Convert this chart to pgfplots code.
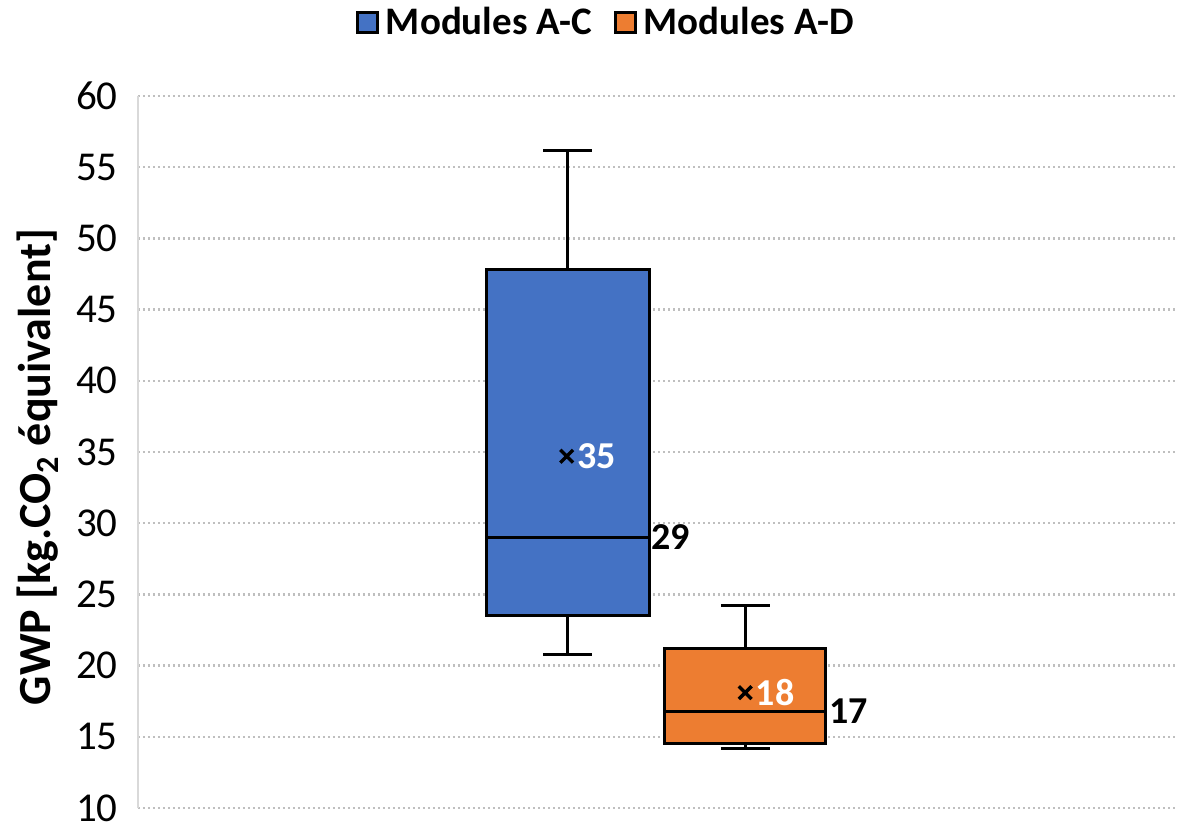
\documentclass[border=0pt]{standalone}
\usepackage{fontspec}
\setmainfont{Carlito}
\usepackage{pgfplots}
\pgfplotsset{compat=1.18}
\usepgfplotslibrary{statistics}
\definecolor{cblue}{HTML}{4472C4}
\definecolor{corange}{HTML}{ED7D31}
\definecolor{gridgray}{HTML}{BFBFBF}
\definecolor{axgray}{HTML}{D9D9D9}
\begin{document}
\begin{tikzpicture}
\begin{axis}[
  at={(0,0)}, anchor=south west,
  scale only axis, width=519pt, height=356pt,
  xmin=0, xmax=1, ymin=10, ymax=60,
  ytick={10,15,...,60},
  xtick=\empty,
  axis lines*=left,
  axis line style={-},
  x axis line style={draw=none},
  y axis line style={draw=axgray, line width=1pt},
  ymajorgrids,
  major grid style={draw=gridgray, line width=1.2pt, dash pattern=on 1.2pt off 1.3pt},
  major tick length=0pt,
  /pgf/number format/assume math mode=true,
  yticklabel style={font=\fontsize{20.5}{24}\selectfont, anchor=east, inner sep=0pt, xshift=-10pt},
  ylabel={GWP [kg.CO\textsubscript{2} équivalent]},
  ylabel style={font=\bfseries\fontsize{23}{27}\selectfont, at={(rel axis cs:-0.0963,0.479)}, anchor=center},
  boxplot/draw direction=y,
  clip=false,
  legend columns=2,
  legend cell align=left,
  legend style={draw=none, fill=none, at={(0.452,1.103)}, anchor=center,
    font=\bfseries\fontsize{19.5}{24}\selectfont,
    /tikz/every even column/.append style={column sep=9pt}},
]
\addplot[boxplot prepared={lower whisker=20.8, lower quartile=23.5, median=29.0,
    upper quartile=47.8, upper whisker=56.2, draw position=0.414,
    box extend=0.157, whisker extend=0.047},
  fill=cblue, draw=black, line width=1.5pt, forget plot] coordinates {};
\addplot[boxplot prepared={lower whisker=14.2, lower quartile=14.5, median=16.8,
    upper quartile=21.2, upper whisker=24.2, draw position=0.585,
    box extend=0.155, whisker extend=0.047},
  fill=corange, draw=black, line width=1.5pt, forget plot] coordinates {};
\addplot[only marks, mark=x, mark size=4.5pt, line width=1.7pt, black,
  nodes near coords, point meta=explicit symbolic,
  nodes near coords style={anchor=west, text=white, xshift=3.5pt, inner sep=1pt,
    font=\bfseries\fontsize{19}{22}\selectfont}, forget plot]
  coordinates {(0.413,34.7)[35] (0.585,18.1)[18]};
\addplot[draw=none, mark=none,
  nodes near coords, point meta=explicit symbolic,
  nodes near coords style={anchor=west, text=black, inner sep=1pt,
    font=\bfseries\fontsize{19}{22}\selectfont}, forget plot]
  coordinates {(0.4925,29.0)[29] (0.6635,16.8)[17]};
\addlegendimage{legend image code/.code={\draw[fill=cblue, draw=black, line width=1.5pt] (0pt,-5pt) rectangle (10pt,5pt); \path[draw=none, fill=none] (0pt,0pt) rectangle (12pt,0.1pt);}}
\addlegendentry{Modules A-C}
\addlegendimage{legend image code/.code={\draw[fill=corange, draw=black, line width=1.5pt] (0pt,-5pt) rectangle (10pt,5pt); \path[draw=none, fill=none] (0pt,0pt) rectangle (12pt,0.1pt);}}
\addlegendentry{Modules A-D}
\end{axis}
\pgfresetboundingbox
\useasboundingbox (-69pt,-9pt) rectangle (520pt,404pt);
\end{tikzpicture}
\end{document}
